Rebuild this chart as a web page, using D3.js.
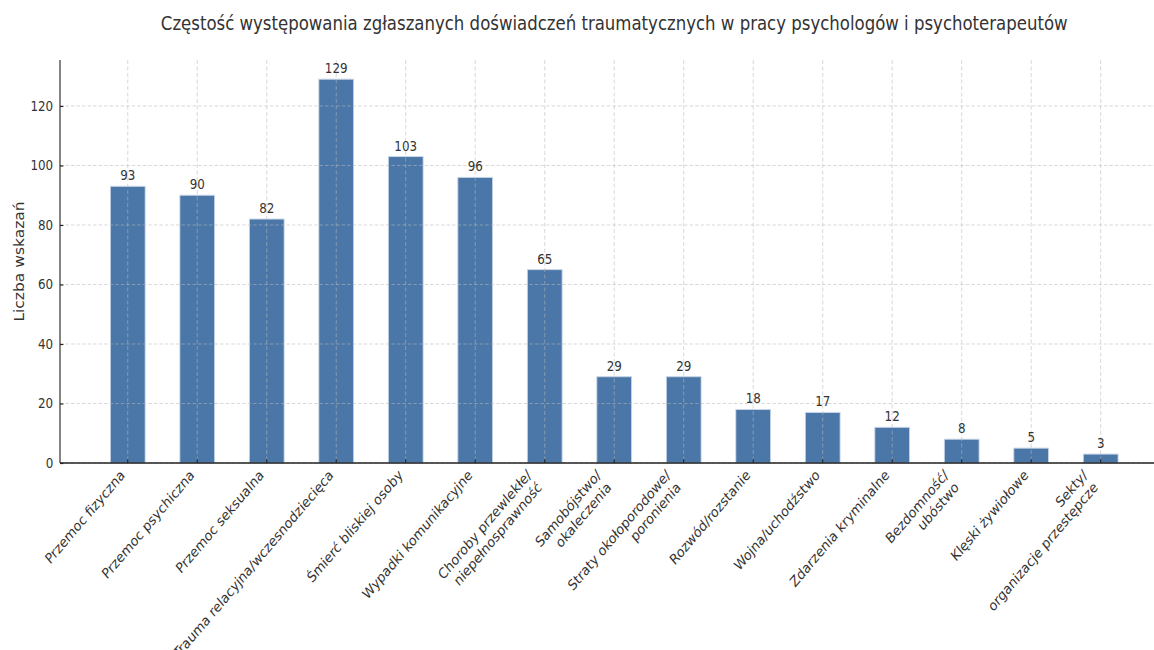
<!doctype html>
<html>
<head>
    <meta charset="utf-8">
    <script src="https://d3js.org/d3.v7.min.js"></script>
    <style>
        body { margin: 0; background: #fff; }
        text { font-family: "DejaVu Sans", sans-serif; fill: #333; }
    </style>
</head>
<body>
    <svg id="chart"></svg>
    <script>
        var categories = [
            "Przemoc fizyczna",
            "Przemoc psychiczna",
            "Przemoc seksualna",
            "Trauma relacyjna/wczesnodziecięca",
            "Śmierć bliskiej osoby",
            "Wypadki komunikacyjne",
            "Choroby przewlekłe/\nniepełnosprawność",
            "Samobójstwo/\nokaleczenia",
            "Straty okołoporodowe/\nporonienia",
            "Rozwód/rozstanie",
            "Wojna/uchodźstwo",
            "Zdarzenia kryminalne",
            "Bezdomność/\nubóstwo",
            "Klęski żywiołowe",
            "Sekty/\norganizacje przestępcze"
        ];
        var values = [93, 90, 82, 129, 103, 96, 65, 29, 29, 18, 17, 12, 8, 5, 3];
        var yTicks = [0, 20, 40, 60, 80, 100, 120];

        var title = "Częstość występowania zgłaszanych doświadczeń traumatycznych w pracy psychologów i psychoterapeutów";
        var yLabel = "Liczba wskazań";

        // drawn in a wider space then squeezed into the window
        var W = 1358, H = 650;
        var svg = d3.select("#chart")
            .attr("width", 1154).attr("height", 650)
            .attr("viewBox", "0 0 " + W + " " + H)
            .attr("preserveAspectRatio", "none");

        var mLeft = 70.6, mRight = 1375, mTop = 60, mBottom = 463;

        var x = d3.scaleBand().domain(categories).range([mLeft, mRight])
            .paddingInner(0.5).paddingOuter(0.725);
        var y = d3.scaleLinear().domain([0, d3.max(values) * 1.05]).range([mBottom, mTop]);

        var data = categories.map(function(c, i) { return {cat: c, value: values[i]}; });

        // bars
        svg.selectAll(".bar")
            .data(data)
            .enter().append("rect")
            .attr("class", "bar")
            .attr("x", function(d) { return x(d.cat); })
            .attr("y", function(d) { return y(d.value); })
            .attr("width", x.bandwidth())
            .attr("height", function(d) { return mBottom - y(d.value); })
            .attr("fill", "#4a77a8")
            .attr("stroke", "#c9d6e6")
            .attr("stroke-width", 1);

        // grid
        var grid = svg.append("g").attr("stroke", "#b8b8b8").attr("stroke-opacity", 0.75)
            .attr("stroke-width", 0.8).attr("stroke-dasharray", "4,2.5");
        grid.selectAll(".gy").data(yTicks).enter().append("line")
            .attr("x1", mLeft).attr("x2", mRight)
            .attr("y1", function(d) { return y(d); }).attr("y2", function(d) { return y(d); });
        grid.selectAll(".gx").data(categories).enter().append("line")
            .attr("x1", function(d) { return x(d) + x.bandwidth() / 2; })
            .attr("x2", function(d) { return x(d) + x.bandwidth() / 2; })
            .attr("y1", mTop).attr("y2", mBottom);

        // value labels
        svg.selectAll(".val")
            .data(data)
            .enter().append("text")
            .attr("class", "val")
            .attr("x", function(d) { return x(d.cat) + x.bandwidth() / 2; })
            .attr("y", function(d) { return y(d.value) - 6; })
            .attr("text-anchor", "middle")
            .attr("font-size", "14px")
            .text(function(d) { return d.value; });

        // y axis
        var yAxis = svg.append("g")
            .attr("transform", "translate(" + mLeft + ",0)")
            .call(d3.axisLeft(y).tickValues(yTicks).tickSizeInner(-4).tickSizeOuter(0).tickPadding(8));
        yAxis.select(".domain").attr("stroke", "#222").attr("stroke-width", 1.3)
            .attr("d", "M0," + mTop + "V" + mBottom);
        yAxis.selectAll(".tick line").attr("stroke", "#222").attr("stroke-width", 1.2);
        yAxis.selectAll(".tick text").attr("font-size", "14px").attr("font-family", "DejaVu Sans").attr("fill", "#333");

        // x axis
        var xAxis = svg.append("g")
            .attr("transform", "translate(0," + mBottom + ")")
            .call(d3.axisBottom(x).tickSizeInner(-4).tickSizeOuter(0));
        xAxis.select(".domain").attr("stroke", "#222").attr("stroke-width", 1.3)
            .attr("d", "M" + mLeft + ",0H" + mRight);
        xAxis.selectAll(".tick line").attr("stroke", "#222").attr("stroke-width", 1.2);
        xAxis.selectAll(".tick text").remove();

        // rotated category labels, right aligned at the tick
        var fs = 14.5, lh = fs * 1.2, c45 = Math.SQRT1_2;
        categories.forEach(function(c) {
            var lines = c.split("\n"), n = lines.length;
            var tx = x(c) + x.bandwidth() / 2;
            lines.forEach(function(line, i) {
                var px = tx - (n - 1 - i) * lh * c45 - 2.5;
                var py = mBottom + 13 + i * lh * c45;
                svg.append("text")
                    .attr("transform", "translate(" + px + "," + py + ") rotate(-45)")
                    .attr("text-anchor", "end")
                    .attr("font-size", fs + "px")
                    .text(line);
            });
        });

        // title and y label
        svg.append("text")
            .attr("x", (mLeft + mRight) / 2)
            .attr("y", 30)
            .attr("text-anchor", "middle")
            .attr("font-size", "19.5px")
            .text(title);

        svg.append("text")
            .attr("transform", "translate(28," + (mTop + mBottom) / 2 + ") rotate(-90)")
            .attr("text-anchor", "middle")
            .attr("font-size", "15.5px")
            .text(yLabel);
    </script>
</body>
</html>
